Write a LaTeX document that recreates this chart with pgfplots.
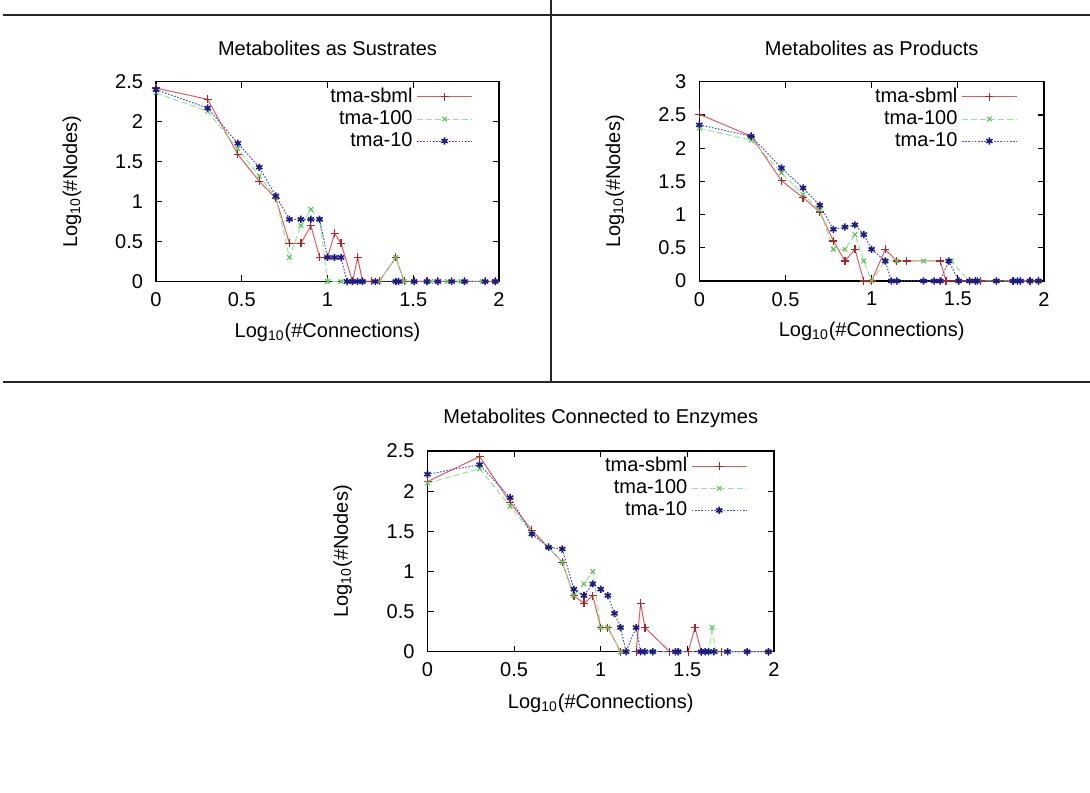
\documentclass[border=0pt]{standalone}
\usepackage{fontspec}
\setmainfont{Liberation Sans}
\usepackage{pgfplots}
\pgfplotsset{compat=1.18}

\definecolor{sbmlline}{HTML}{E45A5A}
\definecolor{sbmlmark}{HTML}{A82828}
\definecolor{hundline}{HTML}{8FE88F}
\definecolor{hundmark}{HTML}{5CC85C}
\definecolor{tenline}{HTML}{4A4AD0}
\definecolor{tenmark}{HTML}{1A1A8A}

\pgfplotsset{
  gp/.style={
    scale only axis, clip=false,
    xmin=0, xmax=2, ymin=0,
    xtick={0,0.5,1,1.5,2},
    tick pos=both, tick align=inside, major tick length=3pt,
    axis line style={black,line width=0.7pt},
    tick style={black,line width=0.6pt},
    /pgf/number format/assume math mode=true,
    yticklabel style={anchor=east,xshift=-3pt},
    xticklabel style={anchor=north,yshift=-2pt},
    title style={at={(axis description cs:0.5,1.105)},anchor=center},
    xlabel style={at={(axis description cs:0.5,-0.255)},anchor=center},
    ylabel style={at={(axis description cs:-0.245,0.5)},anchor=center,rotate=0},
    xlabel={Log\textsubscript{10}(\#Connections)},
    ylabel={Log\textsubscript{10}(\#Nodes)},
    legend plot pos=right, legend cell align=right,
    legend style={draw=none,fill=none,inner sep=0pt,row sep=-1.5pt,
      at={(axis description cs:0.924,0.99)},anchor=north east},
    legend image code/.code={\draw[mark repeat=2,mark phase=2,#1]
      plot coordinates {(0pt,0pt) (13.75pt,0pt) (27.5pt,0pt)};},
  },
  sbml/.style={sbmlline,line width=0.5pt,mark=+,mark size=2pt,
    mark options={solid,draw=sbmlmark,line width=0.6pt}},
  hund/.style={hundline,line width=0.5pt,dash pattern=on 3pt off 1.5pt,mark=x,mark size=1.6pt,
    mark options={solid,draw=hundmark,line width=0.6pt}},
  ten/.style={tenline,line width=0.5pt,dash pattern=on 0.8pt off 0.8pt,mark=asterisk,mark size=1.8pt,
    mark options={solid,draw=tenmark,line width=0.8pt}},
}

\begin{document}
\begin{tikzpicture}
\path[use as bounding box] (0,0) rectangle (545pt,396pt);
\draw[line width=1pt,black!85] (1.5pt,388.5pt) -- (545pt,388.5pt);
\draw[line width=1pt,black!85] (1.5pt,205pt) -- (545pt,205pt);
\draw[line width=1pt,black!85] (275.5pt,396pt) -- (275.5pt,205pt);

% Substrates
\begin{axis}[gp, at={(78pt,255.25pt)}, anchor=south west,
  width=171.5pt, height=99.9pt, ymax=2.5, ytick={0,0.5,1,1.5,2,2.5},
  title={Metabolites as Sustrates}]
\addplot[sbml] coordinates {(0,2.42) (0.301,2.28) (0.477,1.59) (0.602,1.255) (0.699,1.04)
  (0.778,0.477) (0.845,0.477) (0.903,0.699) (0.954,0.301) (1.0,0.301) (1.041,0.602)
  (1.079,0.477) (1.146,0) (1.176,0.301) (1.204,0) (1.255,0) (1.301,0) (1.398,0.301)
  (1.447,0) (1.505,0) (1.580,0) (1.643,0) (1.724,0) (1.799,0) (1.919,0) (1.978,0)};
\addlegendentry{tma-sbml}
\addplot[hund] coordinates {(0,2.36) (0.301,2.13) (0.477,1.66) (0.602,1.32) (0.699,1.05)
  (0.778,0.301) (0.845,0.699) (0.903,0.903) (0.954,0.778) (1.0,0) (1.079,0) (1.146,0)
  (1.204,0) (1.301,0) (1.398,0.301) (1.447,0) (1.505,0) (1.602,0) (1.699,0) (1.778,0)
  (1.903,0) (1.978,0)};
\addlegendentry{tma-100}
\addplot[ten] coordinates {(0,2.40) (0.301,2.17) (0.477,1.73) (0.602,1.43) (0.699,1.07)
  (0.778,0.778) (0.845,0.778) (0.903,0.778) (0.954,0.778) (1.0,0.301) (1.041,0.301)
  (1.079,0.301) (1.114,0) (1.146,0) (1.176,0) (1.204,0) (1.279,0) (1.398,0) (1.415,0)
  (1.505,0) (1.580,0) (1.643,0) (1.724,0) (1.799,0) (1.919,0) (1.978,0)};
\addlegendentry{tma-10}
\end{axis}

% Products
\begin{axis}[gp, at={(349.65pt,255.5pt)}, anchor=south west,
  width=172.35pt, height=99.65pt, ymax=3, ytick={0,0.5,1,1.5,2,2.5,3},
  title={Metabolites as Products}]
\addplot[sbml] coordinates {(0,2.51) (0.301,2.18) (0.477,1.51) (0.602,1.255) (0.699,1.04)
  (0.778,0.602) (0.845,0.301) (0.903,0.477) (0.954,0) (1.0,0) (1.079,0.477) (1.146,0.301)
  (1.204,0.301) (1.398,0.301) (1.431,0) (1.505,0) (1.568,0) (1.602,0) (1.633,0) (1.724,0)
  (1.820,0) (1.863,0) (1.919,0) (1.968,0)};
\addlegendentry{tma-sbml}
\addplot[hund] coordinates {(0,2.30) (0.301,2.12) (0.477,1.63) (0.602,1.30) (0.699,1.07)
  (0.778,0.477) (0.845,0.477) (0.903,0.699) (0.954,0.301) (1.0,0) (1.079,0.301)
  (1.146,0.301) (1.301,0.301) (1.462,0.301) (1.568,0) (1.623,0) (1.724,0) (1.845,0)
  (1.919,0) (1.968,0)};
\addlegendentry{tma-100}
\addplot[ten] coordinates {(0,2.35) (0.301,2.18) (0.477,1.70) (0.602,1.40) (0.699,1.14)
  (0.778,0.778) (0.845,0.812) (0.903,0.845) (0.954,0.699) (1.0,0.477) (1.079,0.301)
  (1.114,0) (1.146,0) (1.301,0) (1.362,0) (1.398,0) (1.447,0.301) (1.505,0) (1.568,0)
  (1.602,0) (1.613,0) (1.724,0) (1.820,0) (1.845,0) (1.863,0) (1.919,0) (1.968,0)};
\addlegendentry{tma-10}
\end{axis}

% Enzymes
\begin{axis}[gp, at={(213.75pt,70.15pt)}, anchor=south west,
  width=173.25pt, height=100.35pt, ymax=2.5, ytick={0,0.5,1,1.5,2,2.5},
  title={Metabolites Connected to Enzymes}]
\addplot[sbml] coordinates {(0,2.12) (0.301,2.43) (0.477,1.86) (0.602,1.51) (0.699,1.30)
  (0.778,1.114) (0.845,0.699) (0.903,0.602) (0.954,0.699) (1.0,0.301) (1.041,0.301)
  (1.114,0) (1.204,0) (1.230,0.602) (1.255,0.301) (1.398,0) (1.505,0) (1.544,0.301)
  (1.580,0) (1.699,0) (1.845,0) (1.968,0)};
\addlegendentry{tma-sbml}
\addplot[hund] coordinates {(0,2.10) (0.301,2.28) (0.477,1.81) (0.602,1.48) (0.699,1.30)
  (0.778,1.114) (0.845,0.699) (0.903,0.845) (0.954,1.0) (1.0,0.301) (1.041,0.301)
  (1.114,0) (1.146,0) (1.230,0) (1.301,0) (1.447,0) (1.602,0) (1.623,0) (1.643,0.301)
  (1.663,0) (1.724,0) (1.845,0) (1.968,0)};
\addlegendentry{tma-100}
\addplot[ten] coordinates {(0,2.21) (0.301,2.33) (0.477,1.92) (0.602,1.466) (0.699,1.30)
  (0.778,1.279) (0.845,0.778) (0.903,0.699) (0.954,0.845) (1.0,0.778) (1.041,0.699)
  (1.079,0.477) (1.114,0.301) (1.146,0) (1.204,0.301) (1.230,0) (1.255,0) (1.301,0)
  (1.431,0) (1.447,0) (1.580,0) (1.602,0) (1.623,0) (1.653,0) (1.732,0) (1.845,0) (1.968,0)};
\addlegendentry{tma-10}
\end{axis}
\end{tikzpicture}
\end{document}
